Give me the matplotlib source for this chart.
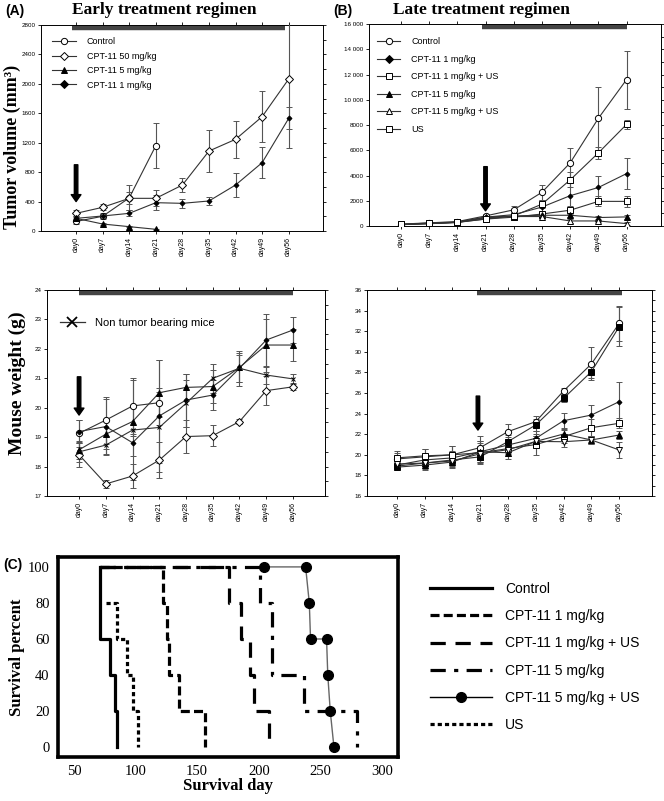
import numpy as np
import matplotlib
matplotlib.use('Agg')
import matplotlib.pyplot as plt
from matplotlib.lines import Line2D
from matplotlib.ticker import MultipleLocator, AutoMinorLocator

plt.rcParams['lines.scale_dashes'] = False
SERIF = 'Liberation Serif'
SANS = 'Liberation Sans'

days = ['day0', 'day7', 'day14', 'day21', 'day28', 'day35', 'day42', 'day49', 'day56']

# (A) tumor volume, early treatment
a_tv_control = [130, 200, 450, 1160]
a_tv_control_err = [30, 40, 170, 310]
a_tv_cpt50 = [240, 322, 444, 444, 625, 1087, 1246, 1554, 2066]
a_tv_cpt50_err = [40, 40, 80, 110, 90, 290, 250, 350, 940]
a_tv_cpt5 = [172, 95, 59, 23]
a_tv_cpt5_err = [20, 10, 10, 5]
a_tv_cpt1 = [172, 204, 240, 385, 376, 408, 625, 929, 1531]
a_tv_cpt1_err = [30, 30, 40, 100, 60, 50, 160, 215, 150]

# (B) tumor volume, late treatment
b_tv_control = [100, 250, 350, 800, 1280, 2670, 5000, 8530, 11600]
b_tv_control_err = [30, 50, 80, 150, 300, 600, 1150, 2500, 2300]
b_tv_cpt1 = [100, 200, 300, 700, 900, 1500, 2400, 3050, 4150]
b_tv_cpt1_err = [20, 40, 60, 150, 200, 400, 1000, 900, 1250]
b_tv_cpt1us = [130, 200, 280, 550, 700, 950, 1250, 1950, 1950]
b_tv_cpt1us_err = [20, 40, 60, 100, 150, 200, 300, 400, 450]
b_tv_cpt5 = [120, 200, 300, 700, 800, 850, 850, 670, 720]
b_tv_cpt5_err = [20, 40, 60, 100, 150, 150, 150, 100, 150]
b_tv_cpt5us = [120, 180, 280, 650, 750, 750, 400, 400, 190]
b_tv_cpt5us_err = [20, 40, 60, 100, 150, 150, 150, 100, 100]
b_tv_us = [150, 250, 300, 550, 800, 1730, 3650, 5790, 8050]
b_tv_us_err = [30, 50, 60, 100, 150, 300, 600, 500, 350]

# (A) mouse weight
a_mw_control = [19.13, 19.58, 20.06, 20.17]
a_mw_control_err = [0.45, 0.8, 0.95, 0.5]
a_mw_cpt50 = [18.4, 17.41, 17.68, 18.22, 19.02, 19.05, 19.53, 20.58, 20.71]
a_mw_cpt50_err = [0.4, 0.15, 0.4, 0.6, 0.55, 0.35, 0.1, 0.5, 0.1]
a_mw_cpt5 = [18.57, 19.1, 19.53, 20.51, 20.69, 20.72, 21.37, 22.13, 22.13]
a_mw_cpt5_err = [0.3, 0.5, 0.5, 1.1, 0.45, 0.55, 0.5, 0.9, 0.55]
a_mw_cpt1 = [19.19, 19.36, 18.81, 19.72, 20.26, 20.43, 21.34, 22.3, 22.64]
a_mw_cpt1_err = [0.4, 0.95, 0.45, 1.9, 0.9, 0.5, 0.6, 0.9, 0.45]
a_mw_ntb = [18.5, 18.73, 19.24, 19.33, 20.15, 21.0, 21.34, 21.11, 20.98]
a_mw_ntb_err = [0.35, 0.3, 1.7, 1.2, 0.8, 0.5, 0.45, 0.3, 0.15]

# (B) mouse weight
b_mw_control = [19.6, 19.8, 20.0, 20.7, 22.25, 23.22, 26.2, 28.82, 32.76]
b_mw_control_err = [0.6, 0.8, 0.9, 1.1, 0.7, 0.5, 0.3, 1.6, 1.7]
b_mw_us = [18.9, 19.2, 19.5, 19.8, 21.28, 22.9, 25.48, 28.07, 32.44]
b_mw_us_err = [0.3, 0.6, 0.6, 0.6, 0.6, 0.6, 0.4, 0.6, 1.9]
b_mw_cpt1 = [19.0, 19.5, 19.7, 20.3, 20.95, 21.6, 23.31, 23.86, 25.16]
b_mw_cpt1_err = [0.4, 0.6, 0.7, 1.0, 0.8, 0.7, 0.7, 1.0, 1.9]
b_mw_cpt1us = [19.7, 19.9, 20.0, 20.2, 20.6, 21.0, 21.76, 22.63, 23.06]
b_mw_cpt1us_err = [0.7, 0.7, 0.9, 1.1, 0.5, 1.0, 0.6, 0.8, 0.5]
b_mw_cpt5 = [18.8, 19.0, 19.3, 20.3, 20.2, 21.3, 22.02, 21.44, 21.92]
b_mw_cpt5_err = [0.3, 0.5, 0.6, 0.8, 0.6, 0.5, 0.5, 0.4, 0.4]
b_mw_cpt5us = [19.1, 19.2, 19.4, 20.1, 20.5, 21.3, 21.27, 21.44, 20.47]
b_mw_cpt5us_err = [0.3, 0.5, 0.6, 0.8, 0.6, 0.5, 0.5, 0.4, 0.8]

# (C) survival (step curves: day of each step, percent after it)
sv_control_day = [71, 71, 79, 83, 85]
sv_control_pct = [100, 60, 40, 20, 0]
sv_cpt1_day = [71, 122.5, 125.5, 127, 135, 156.5]
sv_cpt1_pct = [100, 80, 60, 40, 20, 0]
sv_cpt1us_day = [71, 175.5, 185.5, 193, 196, 208]
sv_cpt1us_pct = [100, 80, 60, 40, 20, 0]
sv_cpt5_day = [71, 201, 211, 237, 280]
sv_cpt5_pct = [100, 80, 40, 20, 0]
sv_cpt5us_day = [204, 238, 241, 242, 255, 256, 258, 261]
sv_cpt5us_pct = [100, 100, 80, 60, 60, 40, 20, 0]
sv_us_day = [76, 85, 93, 98, 102]
sv_us_pct = [80, 60, 40, 20, 0]

W, H = 664, 801
fig = plt.figure(figsize=(W / 100, H / 100), dpi=100)


def box(x0, y0, x1, y1):
    # pixel box -> figure fraction
    return [x0 / W, 1 - y1 / H, (x1 - x0) / W, (y1 - y0) / H]


def serie(ax, vals, errs, marker, mfc, ms=4.5, color='#333'):
    n = len(vals)
    ax.errorbar(np.arange(n), vals, yerr=errs, marker=marker, mfc=mfc, mec='black',
                ms=ms, color=color, lw=0.8, ecolor='#555', elinewidth=0.8,
                capsize=2, capthick=0.8, mew=0.7, zorder=3)


def style_small(ax, xlim, ylim, step, ylabels=None):
    ax.set_xlim(*xlim)
    ax.set_ylim(*ylim)
    ax.set_xticks(np.arange(len(days)))
    ax.set_xticklabels(days, rotation=90, fontsize=5, family=SANS)
    ax.yaxis.set_major_locator(MultipleLocator(step))
    ax.yaxis.set_minor_locator(AutoMinorLocator(2))
    if ylabels is not None:
        ax.set_yticks(np.arange(ylim[0], ylim[1] + step / 2, step))
        ax.set_yticklabels(ylabels)
    for lab in ax.get_yticklabels():
        lab.set_fontsize(4.5)
        lab.set_family(SANS)
    ax.tick_params(which='major', direction='out', length=2.5, width=0.6, top=True, right=True, pad=1.5)
    ax.tick_params(which='minor', direction='out', length=2, width=0.6, left=False, right=True)
    for s in ax.spines.values():
        s.set_linewidth(0.7)


def arrow(ax, xpos, y0, y1):
    ax.annotate('', xy=(xpos, y1), xytext=(xpos, y0),
                arrowprops=dict(facecolor='black', edgecolor='black', width=2.5,
                                headwidth=7, headlength=5), zorder=4)


def hbar(ax, x0, x1, y):
    ax.plot([x0, x1], [y, y], color='#444', lw=3.2, solid_capstyle='butt', zorder=2)


def legend_handles(specs):
    return [Line2D([], [], color='#333', lw=0.8, marker=m, mfc=f, mec='black', ms=4.5, mew=0.7)
            for m, f in specs]


# ---------- (A) tumor volume ----------
ax1 = fig.add_axes(box(41, 25, 323, 231))
serie(ax1, a_tv_control, a_tv_control_err, 'o', 'white')
serie(ax1, a_tv_cpt50, a_tv_cpt50_err, 'D', 'white', ms=4)
serie(ax1, a_tv_cpt5, a_tv_cpt5_err, '^', 'black')
serie(ax1, a_tv_cpt1, a_tv_cpt1_err, 'D', 'black', ms=2.5)
style_small(ax1, (-1.32, 9.29), (0, 2800), 400)
hbar(ax1, -0.15, 7.85, 2755)
arrow(ax1, 0, 900, 400)
ax1.set_ylabel('Tumor volume (mm³)', family=SERIF, fontsize=13, fontweight='bold')
ax1.yaxis.set_label_coords(-0.07, 0.41)
ax1.legend(legend_handles([('o', 'white'), ('D', 'white'), ('^', 'black'), ('D', 'black')]),
           ['Control', 'CPT-11 50 mg/kg', 'CPT-11 5 mg/kg', 'CPT-11 1 mg/kg'],
           loc='upper left', bbox_to_anchor=(0.04, 0.94), frameon=False,
           prop={'family': SANS, 'size': 6.5}, handlelength=2.6, handletextpad=1.2,
           labelspacing=0.6, borderpad=0, borderaxespad=0)

# ---------- (B) tumor volume ----------
ax2 = fig.add_axes(box(369, 24, 661, 226))
serie(ax2, b_tv_control, b_tv_control_err, 'o', 'white')
serie(ax2, b_tv_cpt1, b_tv_cpt1_err, 'D', 'black', ms=2.5)
serie(ax2, b_tv_cpt1us, b_tv_cpt1us_err, 's', 'white')
serie(ax2, b_tv_cpt5, b_tv_cpt5_err, '^', 'black')
serie(ax2, b_tv_cpt5us, b_tv_cpt5us_err, '^', 'white')
serie(ax2, b_tv_us, b_tv_us_err, 's', 'white', ms=5)
b_tv_ticks = ['0', '2000', '4000', '6000', '8000', '10 000', '12 000', '14 000', '16 000']
style_small(ax2, (-1.13, 9.22), (0, 16000), 2000, b_tv_ticks)
hbar(ax2, 2.86, 8.0, 15730)
arrow(ax2, 3, 4700, 1200)
ax2.legend(legend_handles([('o', 'white'), ('D', 'black'), ('s', 'white'), ('^', 'black'),
                           ('^', 'white'), ('s', 'white')]),
           ['Control', 'CPT-11 1 mg/kg', 'CPT-11 1 mg/kg + US', 'CPT-11 5 mg/kg',
            'CPT-11 5 mg/kg + US', 'US'],
           loc='upper left', bbox_to_anchor=(0.027, 0.935), frameon=False,
           prop={'family': SANS, 'size': 6.5}, handlelength=2.6, handletextpad=1.2,
           labelspacing=0.95, borderpad=0, borderaxespad=0)

# ---------- (A) mouse weight ----------
ax3 = fig.add_axes(box(47, 290, 325, 496))
serie(ax3, a_mw_control, a_mw_control_err, 'o', 'white')
serie(ax3, a_mw_cpt50, a_mw_cpt50_err, 'D', 'white', ms=4)
serie(ax3, a_mw_cpt5, a_mw_cpt5_err, '^', 'black')
serie(ax3, a_mw_cpt1, a_mw_cpt1_err, 'D', 'black', ms=2.5)
serie(ax3, a_mw_ntb, a_mw_ntb_err, 'x', 'black', ms=3)
style_small(ax3, (-1.2, 9.2), (17, 24), 1)
hbar(ax3, 0.0, 8.0, 23.89)
arrow(ax3, 0, 21.05, 19.75)
ax3.set_ylabel('Mouse weight (g)', family=SERIF, fontsize=14, fontweight='bold')
ax3.yaxis.set_label_coords(-0.075, 0.55)
ax3.legend([Line2D([], [], color='#333', lw=0.9, marker='x', mec='black', ms=7, mew=1.3)],
           ['Non tumor bearing mice'], loc='upper left', bbox_to_anchor=(0.045, 0.865),
           frameon=False, prop={'family': SANS, 'size': 8}, handlelength=2.3,
           handletextpad=0.9, borderpad=0, borderaxespad=0)

# ---------- (B) mouse weight ----------
ax4 = fig.add_axes(box(367, 290, 652, 496))
serie(ax4, b_mw_control, b_mw_control_err, 'o', 'white')
serie(ax4, b_mw_us, b_mw_us_err, 's', 'black')
serie(ax4, b_mw_cpt1, b_mw_cpt1_err, 'D', 'black', ms=2.5)
serie(ax4, b_mw_cpt1us, b_mw_cpt1us_err, 's', 'white', ms=5)
serie(ax4, b_mw_cpt5, b_mw_cpt5_err, '^', 'black')
serie(ax4, b_mw_cpt5us, b_mw_cpt5us_err, 'v', 'white', ms=5)
style_small(ax4, (-1.07, 9.18), (16, 36), 2)
hbar(ax4, 2.87, 8.1, 35.68)
arrow(ax4, 2.92, 25.7, 22.4)

# ---------- (C) survival ----------
ax5 = fig.add_axes(box(58, 557, 398, 757))
lw = 2.3
ax5.plot(sv_control_day, sv_control_pct, drawstyle='steps-post', color='black', lw=lw)
ax5.plot(sv_cpt1_day, sv_cpt1_pct, drawstyle='steps-post', color='black', lw=lw,
         dashes=(6.5, 3))
ax5.plot(sv_cpt1us_day, sv_cpt1us_pct, drawstyle='steps-post', color='black', lw=lw,
         dashes=(11, 7))
ax5.plot(sv_cpt5_day, sv_cpt5_pct, drawstyle='steps-post', color='black', lw=lw,
         dashes=(11, 6, 3, 6))
ax5.plot(sv_us_day, sv_us_pct, drawstyle='steps-post', color='black', lw=lw,
         dashes=(3, 2.2))
ax5.plot(sv_cpt5us_day, sv_cpt5us_pct, color='#666', lw=1, marker='o', mfc='black',
         mec='black', ms=7, zorder=3)
ax5.set_xlim(37, 313)
ax5.set_ylim(-5.5, 105.5)
ax5.set_xticks(np.arange(50, 301, 50))
ax5.set_yticks(np.arange(0, 101, 20))
ax5.tick_params(length=0, pad=6, labelsize=10.5)
for lab in ax5.get_xticklabels() + ax5.get_yticklabels():
    lab.set_family(SERIF)
for s in ax5.spines.values():
    s.set_linewidth(2.6)
ax5.set_xlabel('Survival day', family=SERIF, fontsize=12, fontweight='bold', labelpad=0)
ax5.set_ylabel('Survival percent', family=SERIF, fontsize=12, fontweight='bold', labelpad=2)

c_handles = [
    Line2D([], [], color='black', lw=lw),
    Line2D([], [], color='black', lw=lw, dashes=(6.5, 3)),
    Line2D([], [], color='black', lw=lw, dashes=(11, 7)),
    Line2D([], [], color='black', lw=lw, dashes=(11, 6, 3, 6)),
    Line2D([], [], color='black', lw=1, marker='o', ms=7, mfc='black', mec='black'),
    Line2D([], [], color='black', lw=lw, dashes=(3, 2.2)),
]
c_labels = ['Control', 'CPT-11 1 mg/kg', 'CPT-11 1 mg/kg + US', 'CPT-11 5 mg/kg',
            'CPT-11 5 mg/kg + US', 'US']
fig.legend(c_handles, c_labels, loc='upper left', bbox_to_anchor=(430 / W, 1 - 582 / H),
           frameon=False, prop={'family': SANS, 'size': 10}, handlelength=4.5,
           handletextpad=0.9, labelspacing=0.95, borderpad=0, borderaxespad=0)

# ---------- titles ----------
fig.text(5 / W, 1 - 11 / H, '(A)', family=SANS, fontsize=10, fontweight='bold', va='center')
fig.text(72 / W, 1 - 10 / H, 'Early treatment regimen', family=SERIF, fontsize=12.5,
         fontweight='bold', va='center')
fig.text(333 / W, 1 - 11 / H, '(B)', family=SANS, fontsize=10, fontweight='bold', va='center')
fig.text(393 / W, 1 - 10 / H, 'Late treatment regimen', family=SERIF, fontsize=12.5,
         fontweight='bold', va='center')
fig.text(3 / W, 1 - 565 / H, '(C)', family=SANS, fontsize=10, fontweight='bold', va='center')

fig.savefig('out.png', dpi=100)
